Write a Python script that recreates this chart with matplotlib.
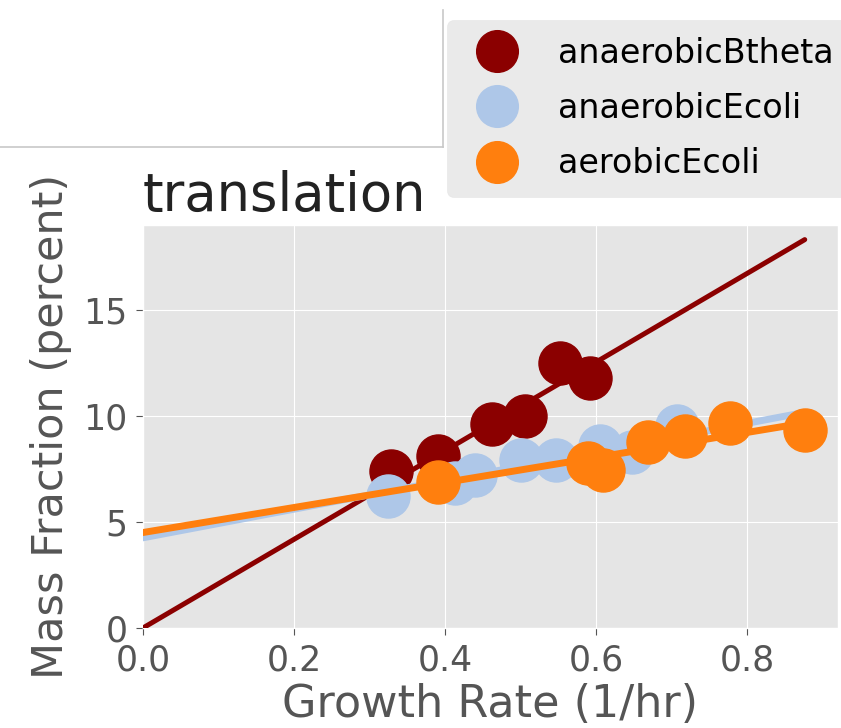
import matplotlib
matplotlib.use("Agg")
import matplotlib.pyplot as plt
from matplotlib.lines import Line2D
import numpy as np

plt.style.use("ggplot")
plt.rcParams["font.family"] = ["DejaVu Sans"]

# Growth rate (1/hr) and translation mass fraction (percent) per condition
btheta_anaer_x = [0.328, 0.391, 0.462, 0.506, 0.552, 0.592]
btheta_anaer_y = [7.4, 8.1, 9.6, 10.0, 12.5, 11.8]

ecoli_anaer_x = [0.325, 0.413, 0.440, 0.500, 0.547, 0.605, 0.647, 0.707]
ecoli_anaer_y = [6.2, 6.85, 7.2, 7.9, 7.9, 8.6, 8.3, 9.5]

ecoli_aer_x = [0.390, 0.589, 0.609, 0.668, 0.717, 0.777, 0.876]
ecoli_aer_y = [6.9, 7.8, 7.45, 8.75, 9.05, 9.65, 9.35]

# Linear fits (intercept, slope)
btheta_anaer_fit = (0.0, 20.9)
ecoli_anaer_fit = (4.25, 6.75)
ecoli_aer_fit = (4.5, 5.9)

series = [
    ("anaerobicBtheta", btheta_anaer_x, btheta_anaer_y, btheta_anaer_fit, "#8B0000", 3.6),
    ("anaerobicEcoli", ecoli_anaer_x, ecoli_anaer_y, ecoli_anaer_fit, "#AEC7E8", 5.0),
    ("aerobicEcoli", ecoli_aer_x, ecoli_aer_y, ecoli_aer_fit, "#FF7F0E", 5.0),
]

xticks = [0.0, 0.2, 0.4, 0.6, 0.8]
yticks = [0, 5, 10, 15]

fig = plt.figure(figsize=(8.41, 7.28), dpi=100)
ax = fig.add_axes([0.170, 0.1374, 0.8264, 0.5536])

xmax = max(max(s[1]) for s in series)
xfit = np.array([0.0, xmax])
handles = []
for name, xs, ys, (b0, b1), color, lw in series:
    ax.plot(xs, ys, "o", color=color, markersize=31, zorder=3)
    ax.plot(xfit, b0 + b1 * xfit, "-", color=color, linewidth=lw,
            solid_capstyle="round", zorder=3)
    handles.append(Line2D([], [], marker="o", linestyle="none", color=color,
                          markersize=30, label=name))

ax.set_xlim(0, 0.92)
ax.set_ylim(0, 19)
ax.set_xticks(xticks)
ax.set_yticks(yticks)
ax.set_xticklabels([f"{t:.1f}" for t in xticks])
ax.set_yticklabels([str(t) for t in yticks])
ax.tick_params(labelsize=25, colors="#555555", length=5, pad=6)
ax.set_xlabel("Growth Rate (1/hr)", fontsize=32, color="#555555", labelpad=4)
ax.set_ylabel("Mass Fraction (percent)", fontsize=31, color="#555555", labelpad=8)
ax.set_title("translation", loc="left", fontsize=38, color="#222222", pad=10)

fig.legend(handles=handles, loc="upper left",
           bbox_to_anchor=(447 / 841, 1 - 20 / 728), bbox_transform=fig.transFigure,
           borderaxespad=0, fontsize=24, frameon=True,
           facecolor="#E5E5E5", edgecolor="#E5E5E5",
           handletextpad=0.83, labelspacing=0.67, borderpad=0.5, handlelength=2.0)

# frame edges of the neighbouring panel
fig.add_artist(Line2D([0, 443 / 841], [1 - 147 / 728, 1 - 147 / 728],
                      transform=fig.transFigure, color="#C8C8C8", linewidth=1.2))
fig.add_artist(Line2D([443 / 841, 443 / 841], [1 - 147 / 728, 1 - 10 / 728],
                      transform=fig.transFigure, color="#C8C8C8", linewidth=1.2))

fig.savefig("out.png", dpi=100)
